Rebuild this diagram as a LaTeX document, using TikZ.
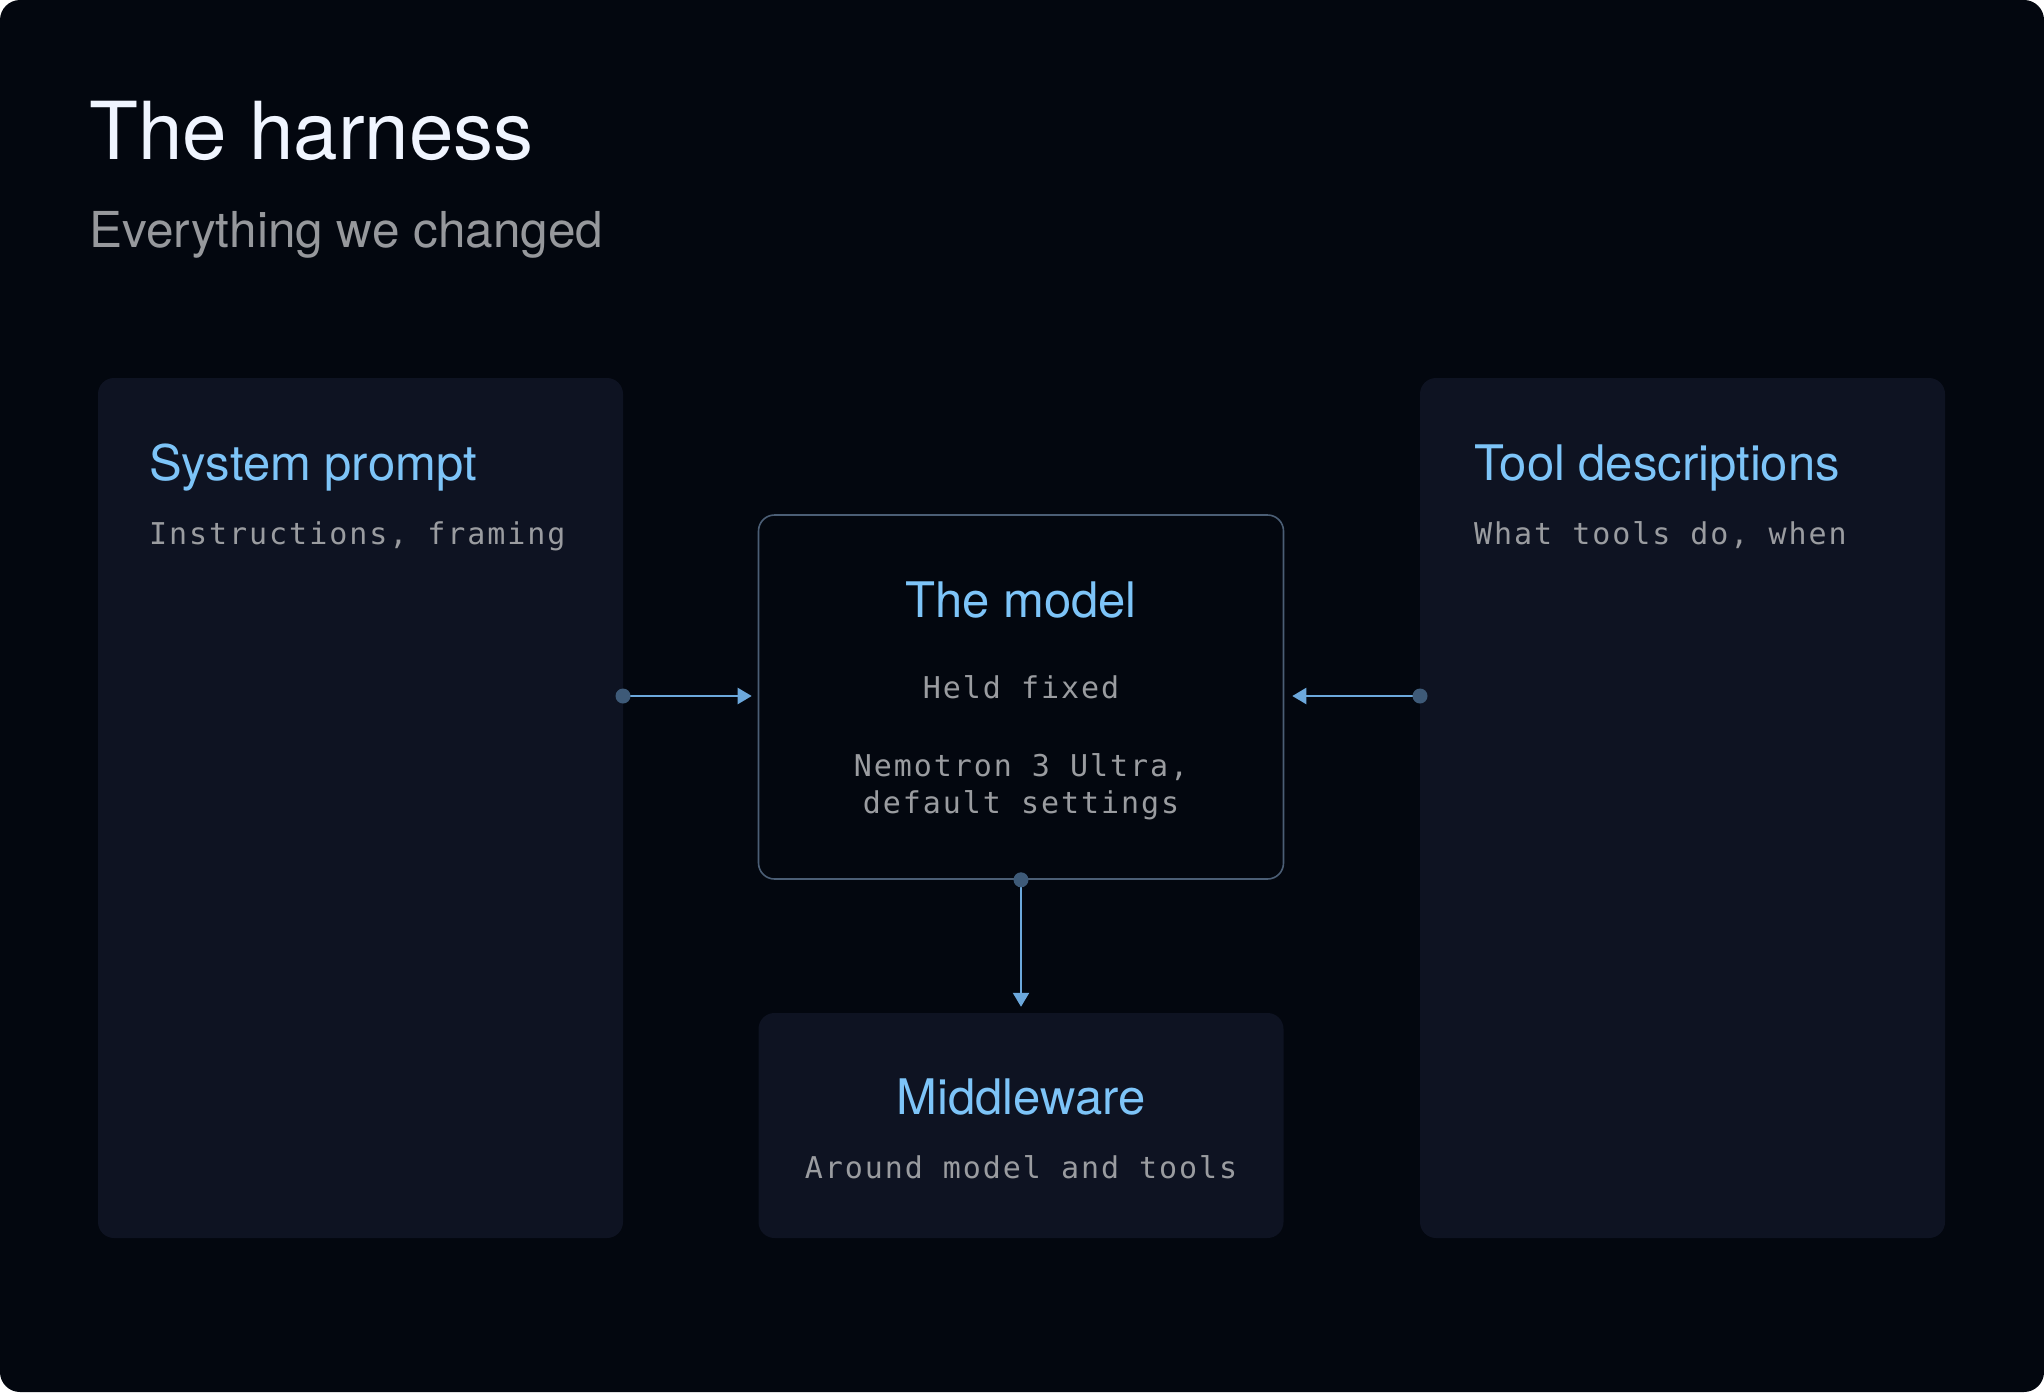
\documentclass[tikz,border=0pt]{standalone}
\usepackage{fontspec}
\setmainfont{TeX Gyre Heros}
\newfontfamily\monof[LetterSpace=6.5]{DejaVu Sans Mono}
\usetikzlibrary{arrows.meta}
\definecolor{bgc}{RGB}{3,7,15}
\definecolor{boxc}{RGB}{14,19,34}
\definecolor{bluet}{RGB}{125,196,248}
\definecolor{greyt}{RGB}{154,156,160}
\definecolor{subt}{RGB}{150,152,156}
\definecolor{whitet}{RGB}{240,245,255}
\definecolor{edgec}{RGB}{75,94,117}
\definecolor{arrc}{RGB}{108,168,220}
\definecolor{dotc}{RGB}{62,90,120}
\tikzset{
  panel/.style={fill=boxc, rounded corners=16pt, draw=none},
  modelbox/.style={fill=bgc, draw=edgec, line width=1.6pt, rounded corners=16pt},
  head/.style={inner sep=0pt, text=bluet, font=\fontsize{49}{56}\selectfont},
  mono/.style={inner sep=0pt, text=greyt, font=\monof\fontsize{30}{37}\selectfont},
  conn/.style={draw=arrc, line width=2.2pt, -{Triangle[length=14pt,width=16pt]}},
  dotm/.style={fill=dotc, draw=none}
}
\begin{document}
\begin{tikzpicture}[x=1pt,y=-1pt]
\useasboundingbox (0,0) rectangle (2044,1392);
\fill[white] (0,0) rectangle (2044,1392);
\fill[bgc, rounded corners=20pt] (0,0) rectangle (2044,1392);
% title
\node (title) [anchor=base west, inner sep=0pt, text=whitet, font=\fontsize{80}{90}\selectfont] at (89,159) {The harness};
\node (subtitle) [anchor=base west, inner sep=0pt, text=subt, font=\fontsize{49.5}{56}\selectfont] at (89,247) {Everything we changed};
% panels
\path[panel] (98,378) rectangle (623,1238);
\coordinate (sysE) at (623,696);
\node (sysT) [head, anchor=base west] at (149,480) {System prompt};
\node (sysS) [mono, anchor=base west] at (149,544) {Instructions, framing};
\path[panel] (1420,378) rectangle (1945,1238);
\coordinate (toolW) at (1420,696);
\node (toolT) [head, anchor=base west] at (1474,480) {Tool descriptions};
\node (toolS) [mono, anchor=base west] at (1474,544) {What tools do, when};
% model box
\node (model) [modelbox, minimum width=525pt, minimum height=364pt, inner sep=0pt] at (1021,697) {};
\node (modelT) [head, anchor=base] at (1021,617) {The model};
\node (modelS1) [mono, anchor=base] at (1021,698) {Held fixed};
\node (modelS2) [mono, anchor=base] at (1021,776) {Nemotron 3 Ultra,};
\node (modelS3) [mono, anchor=base] at (1021,813) {default settings};
% middleware
\node (mid) [panel, minimum width=525pt, minimum height=225pt, inner sep=0pt] at (1021,1125.5) {};
\node (midT) [head, anchor=base] at (1021,1114) {Middleware};
\node (midS) [mono, anchor=base] at (1021,1178) {Around model and tools};
% connectors
\draw[conn, shorten >=6pt] (sysE) -- (model.west |- sysE);
\draw[conn, shorten >=8pt] (toolW) -- (model.east |- toolW);
\draw[conn, shorten >=6pt] (model.south) -- (mid.north);
\fill[dotm] (sysE) circle (7.5pt);
\fill[dotm] (toolW) circle (7.5pt);
\fill[dotm] (model.south) circle (7.5pt);
\end{tikzpicture}
\end{document}
